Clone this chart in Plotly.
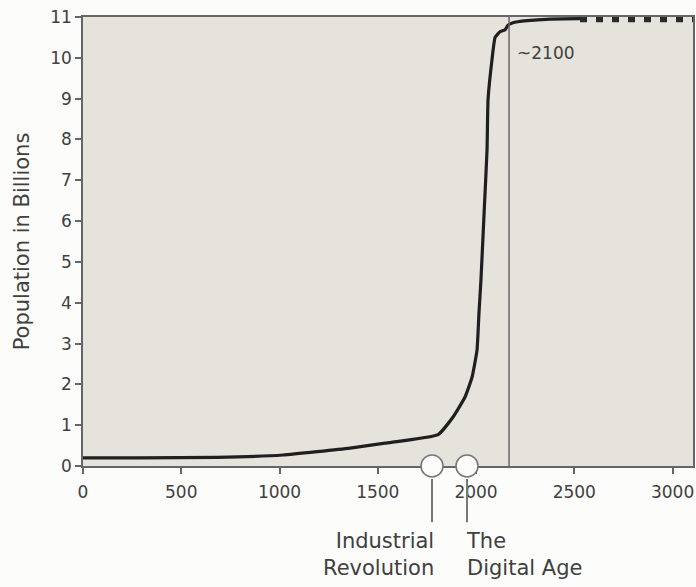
import plotly.graph_objects as go

# ---- data ----
years = [0, 290, 682, 1018, 1359, 1537, 1807, 1883, 1944, 1980, 2005, 2015, 2025,
         2041, 2056, 2061, 2081, 2097, 2122, 2148, 2163, 2188, 2260, 2377, 2529]
population = [0.20, 0.20, 0.21, 0.27, 0.44, 0.56, 0.77, 1.20, 1.69, 2.18, 2.84, 3.75, 4.56,
              6.20, 7.75, 8.97, 9.95, 10.50, 10.64, 10.69, 10.80, 10.86, 10.91, 10.95, 10.96]
proj_years = [2529, 3104]
proj_population = [10.96, 10.96]

event_years = [1776, 1954]
event_values = [0, 0]
event_labels = ["Industrial<br>Revolution", "The<br>Digital Age"]

marker_year = 2168
marker_label = "~2100"

x_ticks = [0, 500, 1000, 1500, 2000, 2500, 3000]
y_ticks = list(range(0, 12))
y_title = "Population in Billions"

FONT = "DejaVu Sans"
TXT = "#404040"
AX = "#666666"

fig = go.Figure()

fig.add_trace(go.Scatter(x=years, y=population, mode="lines",
                         line=dict(color="#1f1f1f", width=3.2, shape="spline", smoothing=0.4),
                         hoverinfo="skip", showlegend=False))
fig.add_trace(go.Scatter(x=proj_years, y=proj_population, mode="lines",
                         line=dict(color="#2a2a2a", width=7, dash="7px,9px"),
                         hoverinfo="skip", showlegend=False))

# vertical marker line
fig.add_shape(type="line", xref="x", yref="y", x0=marker_year, x1=marker_year, y0=0, y1=11,
              line=dict(color=AX, width=1.5), layer="above")

# event leader lines below axis
for ey in event_years:
    fig.add_shape(type="line", xref="x", yref="paper", x0=ey, x1=ey, y0=-0.029, y1=-0.125,
                  line=dict(color="#777777", width=2))

fig.add_trace(go.Scatter(x=event_years, y=event_values, mode="markers",
                         marker=dict(size=22, color="#fcfcfa", line=dict(color="#777777", width=1.6)),
                         cliponaxis=False, hoverinfo="skip", showlegend=False))

fig.add_annotation(x=event_years[0], y=-0.197, xref="x", yref="paper", text=event_labels[0],
                   xanchor="right", yanchor="middle", align="right", showarrow=False, xshift=4,
                   font=dict(family=FONT, size=21, color=TXT))
fig.add_annotation(x=event_years[1], y=-0.197, xref="x", yref="paper", text=event_labels[1],
                   xanchor="left", yanchor="middle", align="left", showarrow=False, xshift=-3,
                   font=dict(family=FONT, size=21, color=TXT))
fig.add_annotation(x=marker_year, y=10.12, xref="x", yref="y", text=marker_label,
                   xanchor="left", yanchor="middle", showarrow=False, xshift=6,
                   font=dict(family=FONT, size=17, color=TXT))

fig.update_layout(
    width=696, height=587,
    margin=dict(l=83, r=3, t=17, b=121, autoexpand=False),
    paper_bgcolor="#fcfcfa",
    plot_bgcolor="#e5e3dc",
    font=dict(family=FONT, size=17, color=TXT),
    showlegend=False,
)
fig.update_xaxes(range=[0, 3104], tickvals=x_ticks, ticks="outside", ticklen=6, tickwidth=1.5,
                 tickcolor=AX, showline=True, linecolor=AX, linewidth=1.5, mirror=True,
                 showgrid=False, zeroline=False, layer="below traces", automargin=False,
                 ticklabelstandoff=4,
                 tickfont=dict(family=FONT, size=17, color=TXT))
fig.update_yaxes(range=[0, 11], tickvals=y_ticks, ticks="outside", ticklen=6, tickwidth=1.5,
                 tickcolor=AX, showline=True, linecolor=AX, linewidth=1.5, mirror=True,
                 showgrid=False, zeroline=False, layer="below traces", automargin=False,
                 ticklabeloverflow="allow",
                 title=dict(text=y_title, font=dict(family=FONT, size=21, color=TXT), standoff=15),
                 tickfont=dict(family=FONT, size=17, color=TXT))

# remove the default page margin so the figure fills the 696x587 window exactly
fig.write_html("out.html", config={"displayModeBar": False},
               post_script="document.body.style.margin='0';document.body.style.overflow='hidden';")
